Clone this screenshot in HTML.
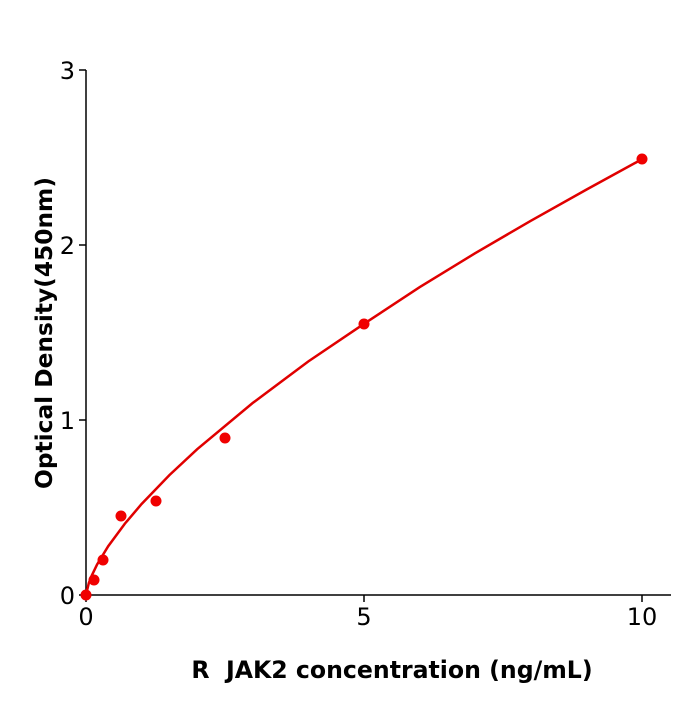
<!DOCTYPE html>
<html><head><meta charset="utf-8"><style>body{margin:0;background:#fff}</style></head>
<body>
<svg width="700" height="700" xmlns="http://www.w3.org/2000/svg" font-family="'DejaVu Sans','Liberation Sans',sans-serif">
<rect width="700" height="700" fill="#fff"/>
<g stroke="#000" stroke-width="1.5" fill="none">
<line x1="86" y1="70" x2="86" y2="596"/>
<line x1="85" y1="595" x2="671" y2="595"/>
<line x1="79" y1="595" x2="86" y2="595"/>
<line x1="79" y1="420" x2="86" y2="420"/>
<line x1="79" y1="245" x2="86" y2="245"/>
<line x1="79" y1="70" x2="86" y2="70"/>
<line x1="86" y1="595" x2="86" y2="602"/>
<line x1="364" y1="595" x2="364" y2="602"/>
<line x1="642" y1="595" x2="642" y2="602"/>
</g>
<g font-size="24" fill="#000">
<text x="75" y="604" text-anchor="end">0</text>
<text x="75" y="429" text-anchor="end">1</text>
<text x="75" y="254" text-anchor="end">2</text>
<text x="75" y="79" text-anchor="end">3</text>
<text x="86" y="625" text-anchor="middle">0</text>
<text x="364" y="625" text-anchor="middle">5</text>
<text x="642" y="625" text-anchor="middle">10</text>
</g>
<text x="392" y="678" font-size="23.6" font-weight="bold" text-anchor="middle" style="white-space:pre">R  JAK2 concentration (ng/mL)</text>
<text transform="translate(52,333) rotate(-90)" font-size="23.3" font-weight="bold" text-anchor="middle">Optical Density(450nm)</text>
<polyline fill="none" stroke="#e00000" stroke-width="2.5" points="86,595 88.8,583.1 91.6,575.9 97.1,564.5 108.2,546.2 124.9,523.6 141.6,504 169.4,475.1 197.2,449.2 252.8,402.9 308.4,361.4 364,323.8 419.6,287.2 475.2,253.2 530.8,220.8 586.4,189.6 642,159.2"/>
<g fill="#f00000">
<circle cx="86" cy="595" r="5.5"/>
<circle cx="94" cy="580" r="5.5"/>
<circle cx="103" cy="560" r="5.5"/>
<circle cx="121" cy="516" r="5.5"/>
<circle cx="156" cy="501" r="5.5"/>
<circle cx="225" cy="438" r="5.5"/>
<circle cx="364" cy="324" r="5.5"/>
<circle cx="642" cy="159" r="5.5"/>
</g>
</svg>
</body></html>
